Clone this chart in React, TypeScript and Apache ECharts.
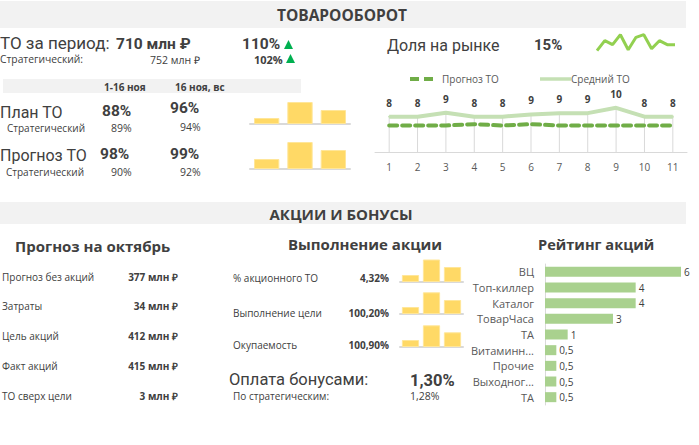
import React, { useEffect, useRef } from "react";
import * as echarts from "echarts";

// ---- data ----
const dayCats = ["1", "2", "3", "4", "5", "6", "7", "8", "9", "10", "11"];
const avgTO = [8.0, 8.0, 8.9, 8.0, 8.0, 8.5, 8.8, 8.8, 10.0, 8.0, 8.0];
const forecastTO = [6.0, 6.0, 6.0, 6.3, 6.0, 6.3, 6.0, 6.0, 6.0, 6.0, 6.0];
const marketShare = [14.03, 15.03, 14.63, 15.63, 14.13, 15.37, 15.63, 14.23, 15.03, 14.63, 14.63];
const miniCats = ["a", "b", "c"];
const planBars = [6, 22, 14];
const forecastBars = [10, 27, 19];
const promoShareBars = [7, 22.5, 15];
const goalBars = [7, 21.7, 14];
const paybackBars = [7, 21.7, 14.7];
const ratingCats = ["ВЦ", "Топ-киллер", "Каталог", "ТоварЧаса", "ТА", "Витаминн...", "Прочие", "Выходног...", "ТА"];
const ratingVals = [6, 4, 4, 3, 1, 0.5, 0.5, 0.5, 0.5];
const octLabels = ["Прогноз без акций", "Затраты", "Цель акций", "Факт акций", "ТО сверх цели"];
const octValues = ["377 млн ₽", "34 млн ₽", "412 млн ₽", "415 млн ₽", "3 млн ₽"];
const actLabels = ["% акционного ТО", "Выполнение цели", "Окупаемость"];
const actValues = ["4,32%", "100,20%", "100,90%"];
const legendNames = ["Прогноз ТО", "Средний ТО"];

const BIG = "Roboto";
const SMALL = "Open Sans";
const DARK = "#404040";
const MID = "#595959";

function txt(x: number, y: number, text: string, size: number, opts: any = {}) {
  return {
    type: "text",
    x,
    y,
    silent: true,
    style: {
      text,
      fontFamily: opts.font || (size >= 14 ? BIG : SMALL),
      fontSize: size,
      fontWeight: opts.bold ? "bold" : "normal",
      fill: opts.color || DARK,
      textAlign: opts.align || "left",
      textVerticalAlign: "middle",
    },
  };
}

function tri(x: number, y: number, s: number) {
  return {
    type: "polygon",
    silent: true,
    shape: { points: [[x, y + s * 0.45], [x + s, y + s * 0.45], [x + s / 2, y - s * 0.55]] },
    style: { fill: "#00B050" },
  };
}

export default function App() {
  const ref = useRef<HTMLDivElement>(null);
  useEffect(() => {
    const chart = echarts.init(ref.current!, null, { renderer: "svg" });

    const miniGrids = [
      { left: 250, width: 100, top: 99, height: 25 },
      { left: 250, width: 100, top: 139, height: 30 },
      { left: 400, width: 63, top: 257, height: 25 },
      { left: 400, width: 63, top: 289, height: 25 },
      { left: 400, width: 63, top: 322, height: 25 },
    ];
    const miniData = [planBars, forecastBars, promoShareBars, goalBars, paybackBars];
    const miniMax = [25, 30, 25, 25, 25];

    const grids: any[] = [
      { left: 375, width: 312, top: 99, height: 53 },
      { left: 597, width: 78, top: 34, height: 17 },
      ...miniGrids,
      { left: 545, right: 18, top: 264, height: 141 },
    ];

    const xAxes: any[] = [
      {
        gridIndex: 0,
        type: "category",
        data: dayCats,
        boundaryGap: true,
        axisLine: { lineStyle: { color: "#D9D9D9", width: 1 } },
        axisTick: { show: false },
        axisLabel: { fontFamily: SMALL, fontSize: 10, color: MID, margin: 10 },
      },
      { gridIndex: 1, type: "category", data: dayCats, boundaryGap: false, show: false },
      ...miniGrids.map((_, i) => ({
        gridIndex: i + 2,
        type: "category",
        data: miniCats,
        axisLine: { lineStyle: { color: "#D9D9D9", width: 2 } },
        axisTick: { show: false },
        axisLabel: { show: false },
      })),
      {
        gridIndex: 7,
        type: "value",
        min: 0,
        max: 6,
        show: false,
        splitLine: { show: false },
      },
    ];
    const yAxes: any[] = [
      { gridIndex: 0, type: "value", min: 0, max: 12, show: false, splitLine: { show: false } },
      { gridIndex: 1, type: "value", min: 14, max: 15.7, show: false, splitLine: { show: false } },
      ...miniGrids.map((_, i) => ({
        gridIndex: i + 2,
        type: "value",
        min: 0,
        max: miniMax[i],
        show: false,
        splitLine: { show: false },
      })),
      {
        gridIndex: 7,
        type: "category",
        data: ratingCats,
        inverse: true,
        axisLine: { show: true, lineStyle: { color: "#D9D9D9", width: 1 } },
        axisTick: { show: false },
        axisLabel: { fontFamily: SMALL, fontSize: 11, color: MID, margin: 11 },
      },
    ];

    const series: any[] = [
      {
        name: "drop",
        type: "bar",
        xAxisIndex: 0,
        yAxisIndex: 0,
        data: avgTO,
        barWidth: 1,
        silent: true,
        itemStyle: { color: "#D9D9D9" },
        z: 1,
      },
      {
        name: legendNames[0],
        type: "line",
        xAxisIndex: 0,
        yAxisIndex: 0,
        data: forecastTO,
        symbol: "none",
        lineStyle: { color: "#70AD47", width: 4, type: [8, 5], cap: "round" },
        itemStyle: { color: "#70AD47" },
        z: 3,
      },
      {
        name: legendNames[1],
        type: "line",
        xAxisIndex: 0,
        yAxisIndex: 0,
        data: avgTO,
        symbol: "circle",
        symbolSize: 2,
        showSymbol: true,
        showAllSymbol: true,
        lineStyle: { color: "#C5E0B4", width: 4 },
        itemStyle: { color: "#C5E0B4" },
        label: {
          show: true,
          position: "top",
          distance: 8,
          fontFamily: SMALL,
          fontSize: 10,
          fontWeight: "bold",
          color: DARK,
          formatter: (p: any) => String(Math.round(p.value)),
        },
        labelLayout: { hideOverlap: false },
        z: 2,
      },
      {
        name: "share",
        type: "line",
        xAxisIndex: 1,
        yAxisIndex: 1,
        data: marketShare,
        symbol: "none",
        lineStyle: { color: "#92D050", width: 3 },
      },
      ...miniData.map((d, i) => ({
        name: "mini" + i,
        type: "bar",
        xAxisIndex: i + 2,
        yAxisIndex: i + 2,
        data: d,
        barCategoryGap: i < 2 ? "24%" : "18%",
        itemStyle: { color: "#FFD966", borderColor: "#FFE699", borderWidth: 1 },
        silent: true,
      })),
      {
        name: "rating",
        type: "bar",
        xAxisIndex: 7,
        yAxisIndex: 7,
        data: ratingVals,
        barWidth: 10,
        itemStyle: { color: "#A9D18E" },
        label: {
          show: true,
          position: "right",
          distance: 3,
          fontFamily: SMALL,
          fontSize: 10,
          color: DARK,
          formatter: (p: any) => String(p.value).replace(".", ","),
        },
      },
    ];

    const g: any[] = [
      { type: "rect", silent: true, shape: { x: 0, y: 1, width: 686, height: 27 }, style: { fill: "#F2F2F2" } },
      txt(342, 14.5, "ТОВАРООБОРОТ", 15.5, { bold: true, align: "center", font: SMALL }),
      txt(0, 43, "ТО за период:", 17),
      txt(116, 44, "710 млн ₽", 15.5, { bold: true }),
      txt(242, 44, "110%", 15.5, { bold: true }),
      tri(284, 45, 9),
      txt(0, 59, "Стратегический:", 10.3),
      txt(150, 59.5, "752 млн ₽", 10.5),
      txt(254, 59.5, "102%", 11, { bold: true }),
      tri(286, 59, 9),
      { type: "rect", silent: true, shape: { x: 3, y: 79, width: 298, height: 14 }, style: { fill: "#F2F2F2" } },
      txt(104, 87, "1-16 ноя", 10, { bold: true }),
      txt(175, 87, "16 ноя, вс", 10, { bold: true }),
      txt(0, 112, "План ТО", 16),
      txt(102, 111, "88%", 15.5, { bold: true }),
      txt(170, 108, "96%", 15.5, { bold: true }),
      txt(7, 128, "Стратегический", 10),
      txt(111, 128, "89%", 10.5),
      txt(180, 127, "94%", 10.5),
      txt(0, 155, "Прогноз ТО", 16),
      txt(100, 153.5, "98%", 15.5, { bold: true }),
      txt(170, 153.5, "99%", 15.5, { bold: true }),
      txt(6, 171.5, "Стратегический", 10),
      txt(111, 171.5, "90%", 10.5),
      txt(180, 171.5, "92%", 10.5),
      txt(387, 45, "Доля на рынке", 16),
      txt(534, 45, "15%", 15, { bold: true }),
      // legend of the line chart
      {
        type: "line",
        silent: true,
        shape: { x1: 410, y1: 79, x2: 434, y2: 79 },
        style: { stroke: "#70AD47", lineWidth: 4, lineDash: [9, 5] },
      },
      txt(442, 79, legendNames[0], 10, { color: MID }),
      {
        type: "line",
        silent: true,
        shape: { x1: 540, y1: 79, x2: 571, y2: 79 },
        style: { stroke: "#C5E0B4", lineWidth: 3.5 },
      },
      txt(571, 79, legendNames[1], 10, { color: MID }),
      { type: "rect", silent: true, shape: { x: 0, y: 202, width: 686, height: 22 }, style: { fill: "#F2F2F2" } },
      txt(341, 213.5, "АКЦИИ И БОНУСЫ", 15, { bold: true, align: "center", font: SMALL }),
      txt(15, 246, "Прогноз на октябрь", 15, { bold: true, font: SMALL }),
      txt(288, 244, "Выполнение акции", 15, { bold: true, font: SMALL }),
      txt(538, 244, "Рейтинг акций", 14.6, { bold: true, font: SMALL }),
      txt(229, 379, "Оплата бонусами:", 16.5),
      txt(410, 380, "1,30%", 16.5, { bold: true }),
      txt(233, 396, "По стратегическим:", 10),
      txt(410, 396, "1,28%", 10.5),
    ];
    const octY = [277, 306, 336, 366, 396];
    octLabels.forEach((l, i) => {
      g.push(txt(2, octY[i], l, 10));
      g.push(txt(178, octY[i], octValues[i], 10, { bold: true, align: "right" }));
    });
    const actY = [278, 313, 345];
    actLabels.forEach((l, i) => {
      g.push(txt(233, actY[i], l, 10));
      g.push(txt(389, actY[i], actValues[i], 10, { bold: true, align: "right" }));
    });

    chart.setOption({
      animation: false,
      backgroundColor: "#FFFFFF",
      textStyle: { fontFamily: SMALL },
      grid: grids,
      xAxis: xAxes,
      yAxis: yAxes,
      series,
      graphic: g,
    });
    return () => chart.dispose();
  }, []);
  return (
    <div
      ref={ref}
      style={{ position: "fixed", left: 0, top: 0, width: 699, height: 445, background: "#fff" }}
    />
  );
}
